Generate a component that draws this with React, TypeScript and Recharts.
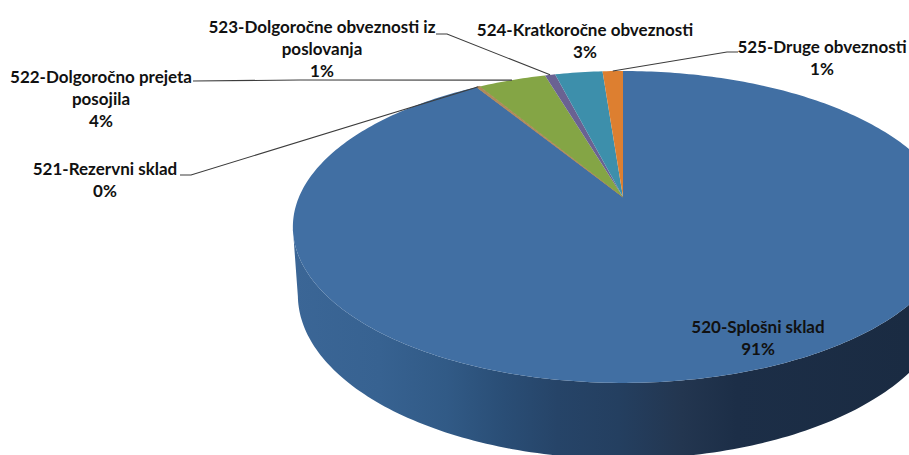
import React from "react";
import { PieChart, Pie, Cell } from "recharts";

const NAMES = [
  "520-Splošni sklad",
  "521-Rezervni sklad",
  "522-Dolgoročno prejeta posojila",
  "523-Dolgoročne obveznosti iz poslovanja",
  "524-Kratkoročne obveznosti",
  "525-Druge obveznosti",
];
const VALUES = [91.2, 0.2, 4.0, 0.6, 2.8, 1.2];
const COLORS = ["#416fa3", "#b0895a", "#84a545", "#6a6292", "#3d8fab", "#dd7f30"];
const LABEL_LINES = [
  ["520-Splošni sklad"],
  ["521-Rezervni sklad"],
  ["522-Dolgoročno prejeta", "posojila"],
  ["523-Dolgoročne obveznosti iz", "poslovanja"],
  ["524-Kratkoročne obveznosti"],
  ["525-Druge obveznosti"],
];
// label block centre x and first-line centre y
const LABEL_X = [758, 105, 101, 322, 585, 822];
const LABEL_Y = [326, 168, 76, 26, 29, 46];
// leader elbow points (null: no leader)
const LEADER_START: (number[][] | null)[] = [
  null,
  [[180, 175], [191, 175]],
  [[193, 81], [300, 80]],
  [[436, 34], [447, 34]],
  null,
  [[738, 52], [727, 52]],
];

const W = 909;
const H = 455;
const APEX_X = 623;
const APEX_Y = 197;
const RADIUS = 324;
const Y_RATIO = 150.2 / 324;
const PERSPECTIVE = 0.192;
const TOP_CENTER_Y = 227;
const BASE_CENTER_Y = 295;
const BASE_SCALE_X = 325 / 330;
const BASE_SCALE_Y = 164 / 156;
const RAD = Math.PI / 180;

const project = (cx: number, cy: number, r: number, deg: number) => {
  const u = Math.cos(deg * RAD);
  const v = Math.sin(deg * RAD);
  const d = 1 + PERSPECTIVE * v;
  return { x: cx + (r * u) / d, y: cy - (r * Y_RATIO * v) / d, v };
};

const arcPoints = (cx: number, cy: number, r: number, a0: number, a1: number) => {
  const n = Math.max(1, Math.ceil(Math.abs(a1 - a0)));
  const pts = [];
  for (let i = 0; i <= n; i++) pts.push(project(cx, cy, r, a0 + ((a1 - a0) * i) / n));
  return pts;
};

const toPath = (pts: { x: number; y: number }[]) =>
  pts.map((p, i) => `${i ? "L" : "M"}${p.x.toFixed(2)},${p.y.toFixed(2)}`).join("");

const SliceShape = (props: any) => {
  const { cx, cy, outerRadius, startAngle, endAngle, fill } = props;
  const pts = arcPoints(cx, cy, outerRadius, startAngle, endAngle);
  const front = pts.filter((p) => p.v <= -PERSPECTIVE + 0.002);
  const wall =
    front.length > 1
      ? toPath(front) +
        toPath(
          front
            .slice()
            .reverse()
            .map((p) => ({
              x: cx + (p.x - cx) * BASE_SCALE_X,
              y: BASE_CENTER_Y + (p.y - TOP_CENTER_Y) * BASE_SCALE_Y,
            })),
        ).replace("M", "L") +
        "Z"
      : null;
  const top = `M${cx},${cy}` + toPath(pts).replace("M", "L") + "Z";
  const thin = Math.abs(endAngle - startAngle) < 1.5;
  return (
    <g>
      {wall && (
        <>
          <defs>
            <linearGradient id="wallShade" gradientUnits="userSpaceOnUse" x1="293" y1="0" x2="909" y2="0">
              <stop offset="0" stopColor="#3b6696" />
              <stop offset="0.14" stopColor="#376291" />
              <stop offset="0.25" stopColor="#315a86" />
              <stop offset="0.34" stopColor="#2a4e76" />
              <stop offset="0.43" stopColor="#264468" />
              <stop offset="0.53" stopColor="#243f60" />
              <stop offset="0.63" stopColor="#233650" />
              <stop offset="0.72" stopColor="#1c2e47" />
              <stop offset="1" stopColor="#1a2b42" />
            </linearGradient>
          </defs>
          <path d={wall} fill="url(#wallShade)" stroke="none" />
        </>
      )}
      <path d={top} fill={fill} stroke={thin ? fill : "none"} strokeWidth={thin ? 1 : 0} />
    </g>
  );
};

const SliceLabel = (props: any) => {
  const { cx, cy, outerRadius, startAngle, endAngle, percent, index } = props;
  const mid = project(cx, cy, outerRadius, (startAngle + endAngle) / 2);
  const lead = LEADER_START[index];
  const lines = [...LABEL_LINES[index], `${Math.round(percent * 100)}%`];
  return (
    <g>
      {lead && (
        <polyline
          points={[...lead, [mid.x, mid.y]].map((p) => p.join(",")).join(" ")}
          fill="none"
          stroke="#3c3c3c"
          strokeWidth={1.1}
        />
      )}
      {lines.map((t, i) => (
        <text
          key={i}
          x={LABEL_X[index]}
          y={LABEL_Y[index] + i * 22}
          textAnchor="middle"
          dominantBaseline="central"
          fontFamily="Lato, 'Open Sans', sans-serif"
          fontWeight={700}
          fontSize={17}
          fill="#111"
        >
          {t}
        </text>
      ))}
    </g>
  );
};

const chartData = NAMES.map((name, i) => ({ name, value: VALUES[i] }));

export default function App() {
  return (
    <div style={{ position: "absolute", left: 0, top: 0, width: W, height: H, overflow: "hidden", background: "#fff" }}>
      <PieChart width={W} height={H} margin={{ top: 0, right: 0, bottom: 0, left: 0 }}>
        <Pie
          data={chartData}
          dataKey="value"
          nameKey="name"
          cx={APEX_X}
          cy={APEX_Y}
          innerRadius={0}
          outerRadius={RADIUS}
          startAngle={90}
          endAngle={-270}
          stroke="none"
          isAnimationActive={false}
          shape={SliceShape}
          label={SliceLabel}
          labelLine={false}
        >
          {chartData.map((d, i) => (
            <Cell key={d.name} fill={COLORS[i]} />
          ))}
        </Pie>
      </PieChart>
    </div>
  );
}
